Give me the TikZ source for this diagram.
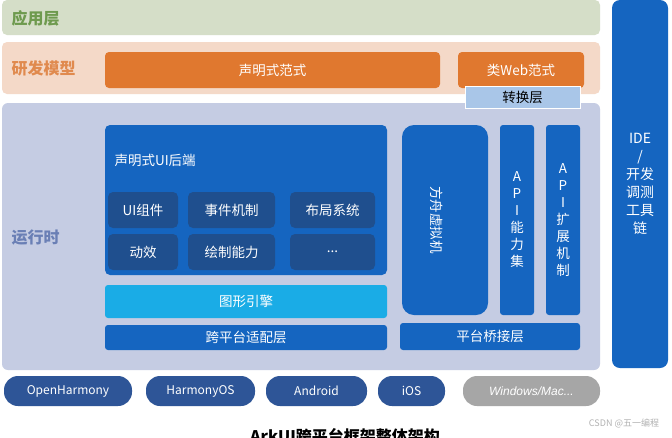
\documentclass[tikz,border=0pt]{standalone}
\usepackage{fontspec}
\setmainfont{Noto Sans CJK SC}
\newfontfamily\latinit{Liberation Sans}
\begin{document}
\begin{tikzpicture}[x=1pt,y=-1pt,
 bluebox/.style={fill=b1,rounded corners=3pt,text=white,font=\fontsize{13.5}{15}\selectfont},
 darkbox/.style={fill=b2,rounded corners=5pt,text=white,font=\fontsize{13.5}{15}\selectfont},
 pill/.style={fill=pb,rounded corners=14pt,text=white,font=\fontsize{12}{14}\selectfont},
 orbox/.style={fill=or1,rounded corners=4pt,text=white,font=\fontsize{13.5}{15}\selectfont},
 lbl/.style={font=\bfseries\fontsize{16}{18}\selectfont,anchor=west}]
\definecolor{b1}{HTML}{1565C0}\definecolor{b2}{HTML}{1F4F8E}\definecolor{pb}{HTML}{2E5597}
\definecolor{or1}{HTML}{E0782F}\definecolor{cy}{HTML}{1AACE6}
\useasboundingbox[fill=white] (0,0) rectangle (672,437);
\fill[rounded corners=5pt,fill={rgb,255:red,213;green,222;blue,200}] (2,0) rectangle (600,35);
\node[lbl,text={rgb,255:red,110;green,154;blue,78}] (app) at (8,18) {应用层};
\fill[rounded corners=5pt,fill={rgb,255:red,244;green,217;blue,200}] (2,42) rectangle (600,94);
\node[lbl,text={rgb,255:red,224;green,138;blue,78}] (dev) at (8,68) {研发模型};
\fill[rounded corners=6pt,fill={rgb,255:red,197;green,204;blue,227}] (2,103) rectangle (600,370);
\node[lbl,text={rgb,255:red,106;green,127;blue,181}] (rt) at (8,238) {运行时};
\node[orbox,minimum width=335pt,minimum height=36pt] (decl) at (272.5,70) {声明式范式};
\node[orbox,minimum width=126pt,minimum height=36pt] (web) at (521,70) {类Web范式};
\node[fill={rgb,255:red,169;green,198;blue,232},draw=white,minimum width=115pt,minimum height=22pt,font=\fontsize{13.5}{15}\selectfont,inner sep=0pt] (conv) at (522.5,97) {转换层};
\fill[b1,rounded corners=5pt] (105,125) rectangle (387,275);
\node[text=white,anchor=west,font=\fontsize{13.5}{15}\selectfont] (uib) at (111,160) {声明式UI后端};
\node[darkbox,minimum width=70pt,minimum height=36pt] (c1) at (143,210) {UI组件};
\node[darkbox,minimum width=87pt,minimum height=36pt] (c2) at (231.5,210) {事件机制};
\node[darkbox,minimum width=85pt,minimum height=36pt] (c3) at (332.5,210) {布局系统};
\node[darkbox,minimum width=70pt,minimum height=36pt] (c4) at (143,252) {动效};
\node[darkbox,minimum width=87pt,minimum height=36pt] (c5) at (231.5,252) {绘制能力};
\node[darkbox,minimum width=85pt,minimum height=36pt] (c6) at (332.5,252) {...};
\node[bluebox,fill=cy,minimum width=282pt,minimum height=33pt] (gfx) at (246,301.5) {图形引擎};
\node[bluebox,minimum width=282pt,minimum height=25pt] (xp) at (246,337.5) {跨平台适配层};
\node[bluebox,rounded corners=12pt,minimum width=86pt,minimum height=190pt] (vm) at (445,220) {};
\node[rotate=-90,text=white,font=\fontsize{13.5}{15}\selectfont] (vmt) at (437,220) {方舟虚拟机};
\node[bluebox,minimum width=34pt,minimum height=190pt,align=center,font=\fontsize{13.5}{17}\selectfont] (api1) at (517,220) {A\\P\\I\\能\\力\\集};
\node[bluebox,minimum width=34pt,minimum height=190pt,align=center,font=\fontsize{13.5}{17}\selectfont] (api2) at (563,220) {A\\P\\I\\扩\\展\\机\\制};
\node[bluebox,minimum width=180pt,minimum height=27pt] (br) at (490,336.5) {平台桥接层};
\node[bluebox,rounded corners=8pt,minimum width=56pt,minimum height=368pt,align=center,font=\fontsize{14}{18}\selectfont] (ide) at (640,184) {IDE\\/\\开发\\调测\\工具\\链};
\node[pill,minimum width=128pt,minimum height=30pt] (p1) at (68,391) {OpenHarmony};
\node[pill,minimum width=109pt,minimum height=30pt] (p2) at (200.5,391) {HarmonyOS};
\node[pill,minimum width=101pt,minimum height=30pt] (p3) at (316.5,391) {Android};
\node[pill,minimum width=67pt,minimum height=30pt] (p4) at (411.5,391) {iOS};
\node[pill,fill={rgb,255:red,166;green,166;blue,166},minimum width=137pt,minimum height=30pt,font=\latinit\itshape\fontsize{12}{14}\selectfont] (p5) at (531.5,391) {Windows/Mac...};
\node[font=\bfseries\fontsize{16}{18}\selectfont] (title) at (345,436) {ArkUI跨平台框架整体架构};
\node[text=gray!60,font=\fontsize{9}{11}\selectfont] (wm) at (624,423) {CSDN @五一编程};
\end{tikzpicture}
\end{document}
